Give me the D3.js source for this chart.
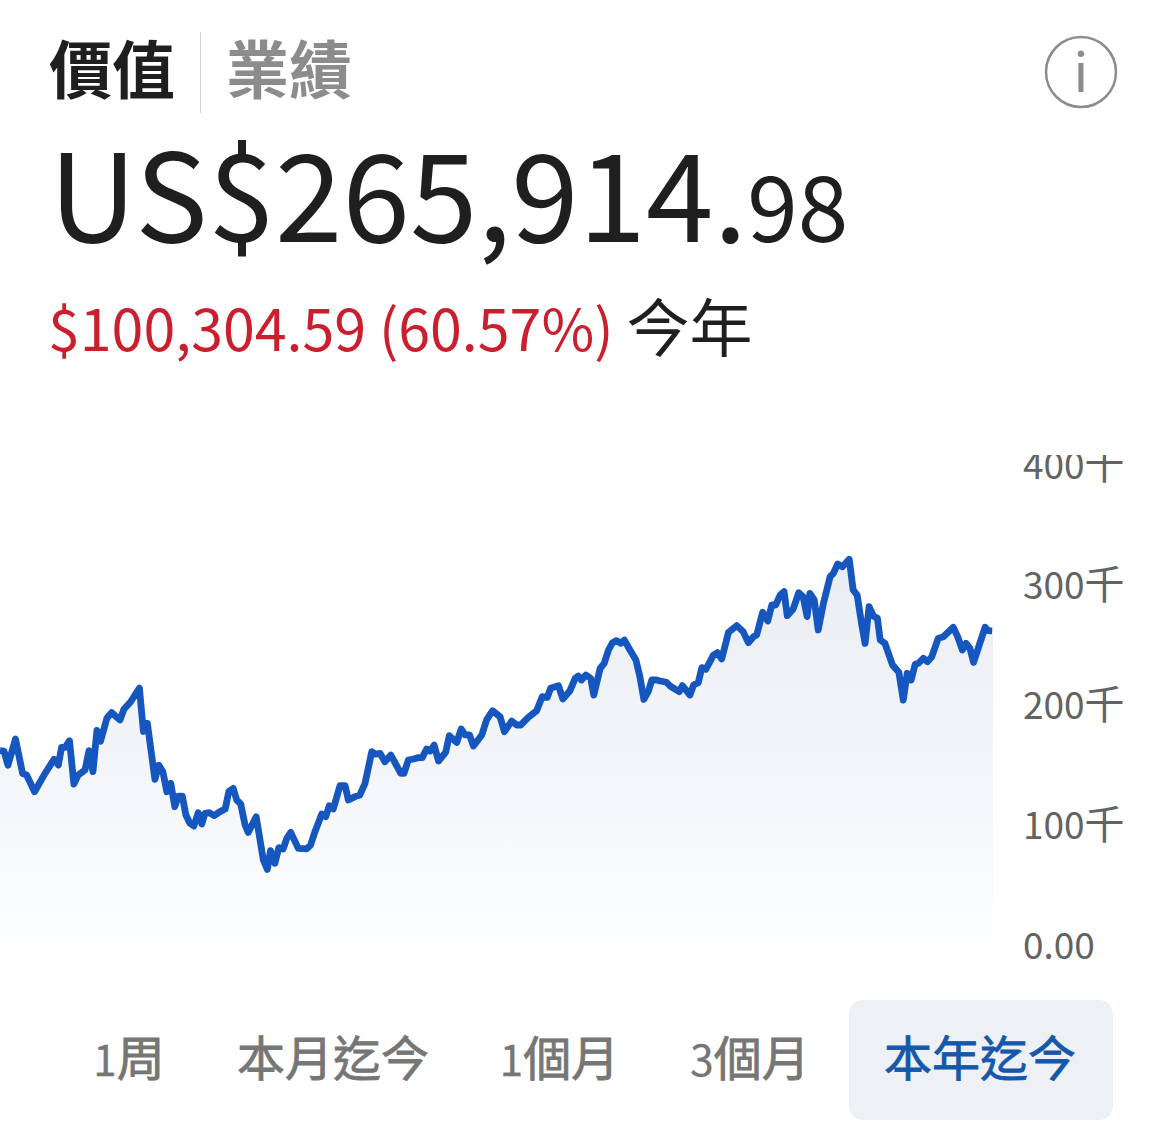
<!DOCTYPE html>
<html>
<head>
<meta charset="utf-8">
<script src="https://cdn.jsdelivr.net/npm/d3@7"></script>
<style>
  html, body { margin: 0; padding: 0; background: #fff; }
  svg { display: block; }
  svg text { font-family: "Noto Sans CJK TC", "Noto Sans", sans-serif; }
</style>
</head>
<body>
<div id="chart"></div>
<script>
// Portfolio value, year to date

const width = 1170;
const height = 1128;

// Position of each reading, in trading days from the left edge
const days = [
  0, 1, 2, 3.9, 5.7, 6.7, 8.7, 11.3, 13.6, 14.7, 15.5, 16.4, 17.5, 18.6, 19.7, 21.4, 22.4, 23.4, 24.4, 25.3,
  26.9, 28.1, 30.2, 31.2, 32.9, 35.1, 36.1, 37.1, 39, 40, 41, 42, 43, 44, 44.9, 45.9, 46.8, 47.8, 48.8, 49.9,
  50.8, 51.6, 52.7, 53.9, 55.4, 56.7, 57.6, 58.7, 59.6, 60.6, 61.7, 62.5, 64.5, 66.3, 67.3, 68.1, 69.2, 70.2, 71.3, 72.2,
  73.2, 75.1, 77.2, 78.2, 79.3, 81, 82, 82.9, 83.9, 85.6, 86.9, 87.7, 89.4, 90.6, 91.9, 93.6, 94.4, 95.7, 96.9, 98.4,
  100.9, 101.7, 102.8, 104.1, 105.3, 106.3, 107.4, 108.3, 109.3, 110.4, 112.2, 113.1, 115, 116.1, 117.1, 118.2, 119.2, 121.3, 122.5, 124,
  125.9, 127, 128.8, 130.1, 131.1, 133, 135.1, 136.5, 137.8, 138.6, 140.6, 141.7, 143.5, 144.8, 145.6, 146.4, 147.5, 148.7, 149.5, 151.1,
  152.1, 153.2, 154.2, 155.2, 156.3, 157.2, 158.6, 160.1, 161.1, 162.1, 163.2, 164.1, 165.3, 166.2, 167.8, 168.7, 171, 171.8, 173.7, 174.6,
  175.8, 176.7, 177.7, 179.6, 180.6, 181.7, 183.4, 185.5, 187.1, 188.4, 189.7, 190.5, 192, 193.3, 194.3, 195.3, 196.4, 197.4, 198.2, 199.7,
  201.1, 202.2, 203.2, 203.9, 205, 206, 207.3, 209, 209.8, 210.9, 212.1, 213.8, 214.8, 215.8, 216.9, 217.8, 218.8, 219.9, 220.9, 221.6,
  222.8, 224.7, 226.3, 227.4, 228.4, 229.4, 230.4, 231.2, 232.5, 233.5, 234.6, 236.2, 237.5, 240, 241.1, 242.3, 243.2, 244.2, 245.1, 248,
  248.8, 249.8
];

// Value at each reading, in thousands of dollars
const values = [
  166.1, 165.8, 154, 175.8, 147, 145.8, 131.9, 147, 158.9, 154.2, 168.9, 168.9, 174.4, 138.3, 145.8, 150, 166.1, 148.6, 183, 173.9,
  193.1, 197.8, 191.7, 200.6, 206.9, 218.3, 182.1, 189, 142.2, 154, 148.6, 131.9, 138.9, 119.4, 128.3, 128.3, 112.5, 105.6, 103.3, 114.4,
  105, 113.9, 114.4, 112, 115.3, 117.5, 132, 134.7, 125, 121.7, 104.2, 98, 111.1, 75, 67.2, 82.8, 72.2, 85.3, 84.2, 93,
  98, 84.7, 84.2, 87.5, 98.6, 113.3, 111.1, 120.3, 117.5, 136.9, 136.9, 125, 127.8, 129.2, 138.9, 165.3, 163.3, 163.9, 156.9, 162.5,
  147.2, 147.2, 158.3, 159.2, 160.3, 160.3, 167.5, 165.8, 170.8, 157.5, 164.7, 178.6, 173, 184.2, 179.2, 179.2, 170, 179.2, 191.7, 199.4,
  194.4, 181.9, 190.8, 187.5, 187.5, 193.9, 199.4, 211.1, 210.6, 218.1, 220.3, 209.2, 216.1, 226.4, 228.3, 225, 229.2, 226.4, 212.5, 234.7,
  238.9, 250, 256.1, 257.8, 255.6, 258.3, 250, 241.7, 227.8, 208.9, 215.3, 225, 225, 224.2, 223.1, 220, 215.3, 220.3, 212.5, 220.8,
  222.8, 235.3, 233.9, 245.8, 247.8, 242.5, 264.7, 270.3, 265.3, 256.1, 261.1, 262.5, 281.4, 274.2, 287.5, 287.5, 295.8, 298.6, 278.6, 284.2,
  297.8, 294.4, 277.8, 297.2, 291.7, 266.7, 288.9, 311.1, 313.9, 321.7, 319.4, 325.6, 300, 295.8, 272.2, 255.6, 286.1, 278.3, 276.4, 258.3,
  255.6, 237.5, 231.4, 208.3, 230.6, 225, 238.1, 238.9, 243.1, 240.3, 244.4, 259.7, 261.1, 268.9, 261.1, 250, 255.6, 251.4, 239.7, 268.9,
  266.1, 265.9
];

const yTicks = [0, 100, 200, 300, 400];
const yTickNumbers = ["0.00", "100", "200", "300", "400"];
const yTickUnits = ["", "千", "千", "千", "千"];
const rangeDigits = ["1", "", "1", "3", ""];
const rangeNames = ["周", "本月迄今", "個月", "個月", "本年迄今"];
const rangeCenters = [129, 333, 559.5, 750, 980];
const activeRange = 4;

const data = days.map((d, i) => ({ day: d, value: values[i] }));

const svg = d3.select("#chart")
  .append("svg")
  .attr("width", width)
  .attr("height", height);

const x = d3.scaleLinear().domain([0, 250]).range([0, 993]);
const y = d3.scaleLinear().domain([0, 400]).range([950, 470]);

// Fill under the line
const defs = svg.append("defs");
const grad = defs.append("linearGradient")
  .attr("id", "areaFill")
  .attr("gradientUnits", "userSpaceOnUse")
  .attr("x1", 0).attr("x2", 0)
  .attr("y1", y(330)).attr("y2", y(0));
grad.append("stop").attr("offset", "0%").attr("stop-color", "#e9ecf2");
grad.append("stop").attr("offset", "100%").attr("stop-color", "#fcfeff");

const area = d3.area().x(d => x(d.day)).y0(y(0)).y1(d => y(d.value));
const line = d3.line().x(d => x(d.day)).y(d => y(d.value)).curve(d3.curveLinear);

svg.append("path")
  .datum([...data, { day: 250, value: values[values.length - 1] }])
  .attr("d", area)
  .attr("fill", "url(#areaFill)");

svg.append("path")
  .datum(data)
  .attr("d", line)
  .attr("fill", "none")
  .attr("stroke", "#1557bf")
  .attr("stroke-width", 6.8)
  .attr("stroke-linejoin", "round");

// Y axis on the right, the top label is cut off by the plot
const yAxis = d3.axisRight(y)
  .tickValues(yTicks)
  .tickFormat((d, i) => yTickNumbers[i])
  .tickSize(0)
  .tickPadding(0);

defs.append("clipPath").attr("id", "tickClip")
  .append("rect").attr("x", -23).attr("y", 458).attr("width", 170).attr("height", 520);

svg.append("g")
  .attr("transform", "translate(1023,-3)")
  .attr("clip-path", "url(#tickClip)")
  .call(yAxis)
  .attr("font-family", null)
  .call(g => g.select(".domain").remove())
  .selectAll("text")
  .attr("fill", "#636363")
  .attr("font-size", 37)
  .append("tspan")
  .attr("font-size", 40)
  .text((d, i) => yTickUnits[i]);

// Header tabs
svg.append("text").attr("x", 49).attr("y", 93)
  .attr("font-size", 63).attr("font-weight", 700).attr("fill", "#1f1f1f").text("價值");
svg.append("line").attr("x1", 200.5).attr("x2", 200.5).attr("y1", 32).attr("y2", 113)
  .attr("stroke", "#d0d0d0").attr("stroke-width", 1);
svg.append("text").attr("x", 226).attr("y", 93)
  .attr("font-size", 63).attr("font-weight", 700).attr("fill", "#8c8c8c").text("業績");

// Info icon
svg.append("circle").attr("cx", 1081).attr("cy", 72).attr("r", 35)
  .attr("fill", "none").attr("stroke", "#8c8c8c").attr("stroke-width", 2.5);
svg.append("text").attr("x", 1081).attr("y", 92).attr("text-anchor", "middle")
  .attr("font-size", 54).attr("fill", "#8c8c8c").text("i");

// Current value
const big = svg.append("text").attr("x", 49).attr("y", 242).attr("fill", "#1f1f1f");
big.append("tspan").attr("font-size", 121.5).text("US$265,914.");
big.append("tspan").attr("font-size", 91).text("98");

// Change
const change = svg.append("text").attr("x", 48).attr("y", 351);
change.append("tspan").attr("font-size", 57.3).attr("fill", "#cc1f2d").text("$100,304.59 (60.57%)");
change.append("tspan").attr("dx", 13).attr("font-size", 63).attr("fill", "#1f1f1f").text("今年");

// Range buttons
svg.append("rect").attr("x", 849).attr("y", 1000).attr("width", 264).attr("height", 120).attr("rx", 14)
  .attr("fill", "#edf0f5");

const rangeLabels = svg.append("g").selectAll("text")
  .data(rangeNames)
  .enter().append("text")
  .attr("x", (d, i) => rangeCenters[i])
  .attr("y", 1076)
  .attr("text-anchor", "middle")
  .attr("font-size", 48)
  .attr("stroke-width", 0.8)
  .attr("stroke", (d, i) => i === activeRange ? "#1557a8" : "#767676")
  .attr("fill", (d, i) => i === activeRange ? "#1557a8" : "#767676");

rangeLabels.append("tspan").attr("font-size", 42).attr("stroke-width", 0.3).text((d, i) => rangeDigits[i]);
rangeLabels.append("tspan").text(d => d);
</script>
</body>
</html>
